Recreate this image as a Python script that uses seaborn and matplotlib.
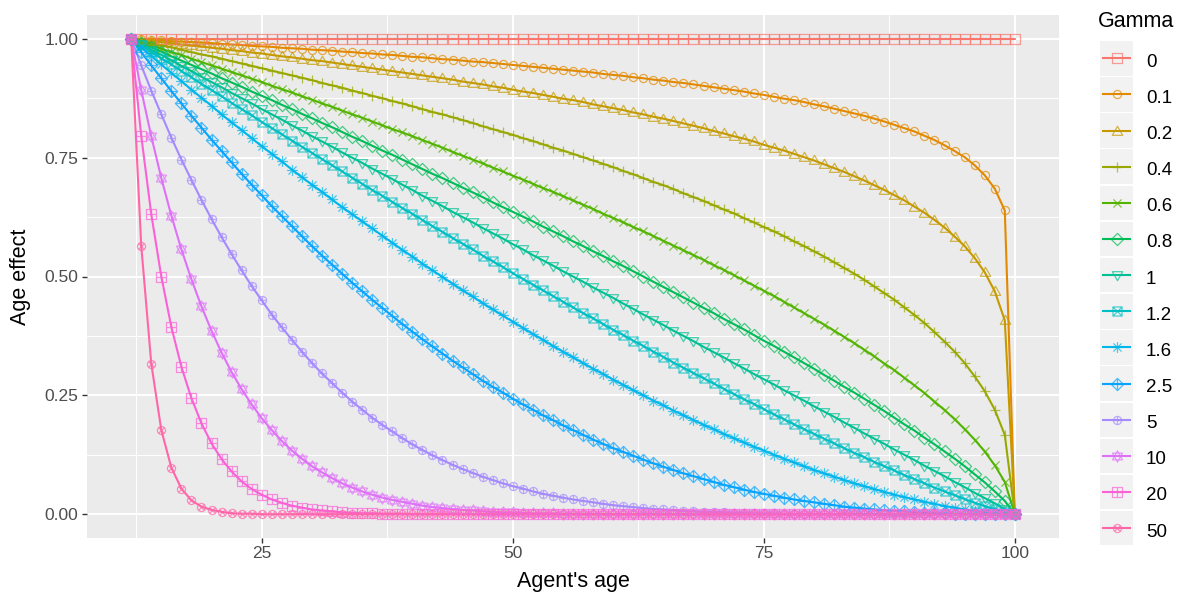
import numpy as np
import pandas as pd
import matplotlib
matplotlib.use("Agg")
import matplotlib.pyplot as plt
from matplotlib.path import Path
from matplotlib.patches import Rectangle
from matplotlib.colors import to_rgba, to_hex
import seaborn as sns

# ------------------------------------------------------------------
# Data: age effect per agent age for each value of gamma
# ------------------------------------------------------------------
gamma_levels = ["0", "0.1", "0.2", "0.4", "0.6", "0.8", "1", "1.2",
                "1.6", "2.5", "5", "10", "20", "50"]

ages = [12, 13, 14, 15, 16, 17, 18, 19, 20, 21,
        22, 23, 24, 25, 26, 27, 28, 29, 30, 31,
        32, 33, 34, 35, 36, 37, 38, 39, 40, 41,
        42, 43, 44, 45, 46, 47, 48, 49, 50, 51,
        52, 53, 54, 55, 56, 57, 58, 59, 60, 61,
        62, 63, 64, 65, 66, 67, 68, 69, 70, 71,
        72, 73, 74, 75, 76, 77, 78, 79, 80, 81,
        82, 83, 84, 85, 86, 87, 88, 89, 90, 91,
        92, 93, 94, 95, 96, 97, 98, 99, 100]

effect_g0 = [1, 1, 1, 1, 1, 1, 1, 1, 1, 1,
             1, 1, 1, 1, 1, 1, 1, 1, 1, 1,
             1, 1, 1, 1, 1, 1, 1, 1, 1, 1,
             1, 1, 1, 1, 1, 1, 1, 1, 1, 1,
             1, 1, 1, 1, 1, 1, 1, 1, 1, 1,
             1, 1, 1, 1, 1, 1, 1, 1, 1, 1,
             1, 1, 1, 1, 1, 1, 1, 1, 1, 1,
             1, 1, 1, 1, 1, 1, 1, 1, 1, 1,
             1, 1, 1, 1, 1, 1, 1, 1, 1]

effect_g01 = [1.000, 0.999, 0.998, 0.997, 0.995, 0.994, 0.993, 0.992, 0.991, 0.989,
              0.988, 0.987, 0.985, 0.984, 0.983, 0.981, 0.980, 0.979, 0.977, 0.976,
              0.975, 0.973, 0.972, 0.970, 0.969, 0.967, 0.966, 0.964, 0.962, 0.961,
              0.959, 0.957, 0.956, 0.954, 0.952, 0.951, 0.949, 0.947, 0.945, 0.943,
              0.941, 0.939, 0.937, 0.935, 0.933, 0.931, 0.929, 0.926, 0.924, 0.922,
              0.919, 0.917, 0.914, 0.912, 0.909, 0.907, 0.904, 0.901, 0.898, 0.895,
              0.892, 0.889, 0.885, 0.882, 0.878, 0.874, 0.871, 0.867, 0.862, 0.858,
              0.853, 0.848, 0.843, 0.838, 0.832, 0.826, 0.819, 0.812, 0.805, 0.796,
              0.787, 0.776, 0.764, 0.751, 0.734, 0.713, 0.685, 0.639, 0.000]

effect_g02 = [1.000, 0.998, 0.995, 0.993, 0.991, 0.988, 0.986, 0.984, 0.981, 0.979,
              0.976, 0.974, 0.971, 0.969, 0.966, 0.963, 0.961, 0.958, 0.955, 0.953,
              0.950, 0.947, 0.944, 0.941, 0.938, 0.935, 0.932, 0.929, 0.926, 0.923,
              0.920, 0.917, 0.914, 0.910, 0.907, 0.904, 0.900, 0.897, 0.893, 0.889,
              0.886, 0.882, 0.878, 0.874, 0.871, 0.867, 0.862, 0.858, 0.854, 0.850,
              0.845, 0.841, 0.836, 0.832, 0.827, 0.822, 0.817, 0.812, 0.806, 0.801,
              0.795, 0.790, 0.784, 0.777, 0.771, 0.765, 0.758, 0.751, 0.744, 0.736,
              0.728, 0.720, 0.711, 0.702, 0.692, 0.682, 0.671, 0.660, 0.647, 0.634,
              0.619, 0.603, 0.584, 0.564, 0.539, 0.509, 0.469, 0.408, 0.000]

effect_g04 = [1.000, 0.995, 0.991, 0.986, 0.982, 0.977, 0.972, 0.967, 0.963, 0.958,
              0.953, 0.948, 0.943, 0.938, 0.933, 0.928, 0.923, 0.918, 0.913, 0.907,
              0.902, 0.897, 0.891, 0.886, 0.880, 0.875, 0.869, 0.864, 0.858, 0.852,
              0.846, 0.841, 0.835, 0.829, 0.823, 0.816, 0.810, 0.804, 0.798, 0.791,
              0.785, 0.778, 0.771, 0.765, 0.758, 0.751, 0.744, 0.737, 0.730, 0.722,
              0.715, 0.707, 0.699, 0.692, 0.684, 0.675, 0.667, 0.659, 0.650, 0.641,
              0.633, 0.623, 0.614, 0.604, 0.595, 0.585, 0.574, 0.564, 0.553, 0.542,
              0.530, 0.518, 0.506, 0.493, 0.479, 0.465, 0.451, 0.435, 0.419, 0.402,
              0.383, 0.363, 0.342, 0.318, 0.290, 0.259, 0.220, 0.167, 0.000]

effect_g06 = [1.000, 0.993, 0.986, 0.979, 0.972, 0.966, 0.958, 0.951, 0.944, 0.937,
              0.930, 0.923, 0.916, 0.909, 0.901, 0.894, 0.887, 0.879, 0.872, 0.864,
              0.857, 0.849, 0.841, 0.834, 0.826, 0.818, 0.810, 0.803, 0.795, 0.787,
              0.779, 0.771, 0.762, 0.754, 0.746, 0.738, 0.729, 0.721, 0.712, 0.704,
              0.695, 0.686, 0.678, 0.669, 0.660, 0.651, 0.642, 0.632, 0.623, 0.614,
              0.604, 0.595, 0.585, 0.575, 0.565, 0.555, 0.545, 0.535, 0.524, 0.514,
              0.503, 0.492, 0.481, 0.470, 0.459, 0.447, 0.435, 0.423, 0.411, 0.399,
              0.386, 0.373, 0.360, 0.346, 0.332, 0.317, 0.303, 0.287, 0.271, 0.255,
              0.237, 0.219, 0.200, 0.179, 0.157, 0.132, 0.103, 0.068, 0.000]

effect_g08 = [1.000, 0.991, 0.982, 0.973, 0.963, 0.954, 0.945, 0.936, 0.927, 0.917,
              0.908, 0.899, 0.889, 0.880, 0.871, 0.861, 0.852, 0.842, 0.833, 0.823,
              0.814, 0.804, 0.794, 0.785, 0.775, 0.765, 0.756, 0.746, 0.736, 0.726,
              0.716, 0.707, 0.697, 0.687, 0.677, 0.667, 0.656, 0.646, 0.636, 0.626,
              0.616, 0.605, 0.595, 0.585, 0.574, 0.564, 0.553, 0.543, 0.532, 0.522,
              0.511, 0.500, 0.489, 0.478, 0.467, 0.456, 0.445, 0.434, 0.423, 0.411,
              0.400, 0.389, 0.377, 0.365, 0.354, 0.342, 0.330, 0.318, 0.306, 0.293,
              0.281, 0.268, 0.256, 0.243, 0.230, 0.217, 0.203, 0.189, 0.176, 0.161,
              0.147, 0.132, 0.117, 0.101, 0.084, 0.067, 0.048, 0.028, 0.000]

effect_g1 = [1.000, 0.989, 0.977, 0.966, 0.955, 0.943, 0.932, 0.920, 0.909, 0.898,
             0.886, 0.875, 0.864, 0.852, 0.841, 0.830, 0.818, 0.807, 0.795, 0.784,
             0.773, 0.761, 0.750, 0.739, 0.727, 0.716, 0.705, 0.693, 0.682, 0.670,
             0.659, 0.648, 0.636, 0.625, 0.614, 0.602, 0.591, 0.580, 0.568, 0.557,
             0.545, 0.534, 0.523, 0.511, 0.500, 0.489, 0.477, 0.466, 0.455, 0.443,
             0.432, 0.420, 0.409, 0.398, 0.386, 0.375, 0.364, 0.352, 0.341, 0.330,
             0.318, 0.307, 0.295, 0.284, 0.273, 0.261, 0.250, 0.239, 0.227, 0.216,
             0.205, 0.193, 0.182, 0.170, 0.159, 0.148, 0.136, 0.125, 0.114, 0.102,
             0.091, 0.080, 0.068, 0.057, 0.045, 0.034, 0.023, 0.011, 0.000]

effect_g12 = [1.000, 0.986, 0.973, 0.959, 0.946, 0.932, 0.919, 0.905, 0.892, 0.879,
              0.865, 0.852, 0.839, 0.825, 0.812, 0.799, 0.786, 0.773, 0.760, 0.747,
              0.734, 0.721, 0.708, 0.695, 0.682, 0.670, 0.657, 0.644, 0.632, 0.619,
              0.606, 0.594, 0.581, 0.569, 0.557, 0.544, 0.532, 0.520, 0.507, 0.495,
              0.483, 0.471, 0.459, 0.447, 0.435, 0.423, 0.412, 0.400, 0.388, 0.377,
              0.365, 0.354, 0.342, 0.331, 0.319, 0.308, 0.297, 0.286, 0.275, 0.264,
              0.253, 0.242, 0.232, 0.221, 0.210, 0.200, 0.189, 0.179, 0.169, 0.159,
              0.149, 0.139, 0.129, 0.120, 0.110, 0.101, 0.092, 0.082, 0.074, 0.065,
              0.056, 0.048, 0.040, 0.032, 0.024, 0.017, 0.011, 0.005, 0.000]

effect_g16 = [1.000, 0.982, 0.964, 0.946, 0.928, 0.911, 0.893, 0.876, 0.859, 0.841,
              0.824, 0.808, 0.791, 0.774, 0.758, 0.742, 0.725, 0.709, 0.693, 0.678,
              0.662, 0.646, 0.631, 0.616, 0.601, 0.586, 0.571, 0.556, 0.542, 0.527,
              0.513, 0.499, 0.485, 0.471, 0.458, 0.444, 0.431, 0.418, 0.405, 0.392,
              0.379, 0.367, 0.354, 0.342, 0.330, 0.318, 0.306, 0.295, 0.283, 0.272,
              0.261, 0.250, 0.239, 0.229, 0.218, 0.208, 0.198, 0.188, 0.179, 0.169,
              0.160, 0.151, 0.142, 0.134, 0.125, 0.117, 0.109, 0.101, 0.093, 0.086,
              0.079, 0.072, 0.065, 0.059, 0.053, 0.047, 0.041, 0.036, 0.031, 0.026,
              0.022, 0.017, 0.014, 0.010, 0.007, 0.004, 0.002, 0.001, 0.000]

effect_g25 = [1.000, 0.972, 0.944, 0.917, 0.890, 0.864, 0.838, 0.813, 0.788, 0.764,
              0.740, 0.716, 0.693, 0.671, 0.648, 0.627, 0.606, 0.585, 0.564, 0.544,
              0.525, 0.506, 0.487, 0.469, 0.451, 0.434, 0.417, 0.400, 0.384, 0.368,
              0.353, 0.338, 0.323, 0.309, 0.295, 0.281, 0.268, 0.256, 0.243, 0.231,
              0.220, 0.208, 0.198, 0.187, 0.177, 0.167, 0.157, 0.148, 0.139, 0.131,
              0.123, 0.115, 0.107, 0.100, 0.093, 0.086, 0.080, 0.074, 0.068, 0.062,
              0.057, 0.052, 0.047, 0.043, 0.039, 0.035, 0.031, 0.028, 0.025, 0.022,
              0.019, 0.016, 0.014, 0.012, 0.010, 0.008, 0.007, 0.006, 0.004, 0.003,
              0.002, 0.002, 0.001, 0.001, 0.000, 0.000, 0.000, 0.000, 0.000]

effect_g5 = [1.000, 0.944, 0.891, 0.841, 0.792, 0.746, 0.703, 0.661, 0.621, 0.583,
             0.547, 0.513, 0.480, 0.450, 0.420, 0.393, 0.367, 0.342, 0.318, 0.296,
             0.276, 0.256, 0.237, 0.220, 0.203, 0.188, 0.174, 0.160, 0.147, 0.135,
             0.124, 0.114, 0.104, 0.095, 0.087, 0.079, 0.072, 0.065, 0.059, 0.054,
             0.048, 0.043, 0.039, 0.035, 0.031, 0.028, 0.025, 0.022, 0.019, 0.017,
             0.015, 0.013, 0.011, 0.010, 0.009, 0.007, 0.006, 0.005, 0.005, 0.004,
             0.003, 0.003, 0.002, 0.002, 0.002, 0.001, 0.001, 0.001, 0.001, 0.000,
             0.000, 0.000, 0.000, 0.000, 0.000, 0.000, 0.000, 0.000, 0.000, 0.000,
             0.000, 0.000, 0.000, 0.000, 0.000, 0.000, 0.000, 0.000, 0.000]

effect_g10 = [1.000, 0.892, 0.795, 0.707, 0.628, 0.557, 0.494, 0.437, 0.386, 0.340,
              0.299, 0.263, 0.231, 0.202, 0.177, 0.154, 0.134, 0.117, 0.101, 0.088,
              0.076, 0.065, 0.056, 0.048, 0.041, 0.035, 0.030, 0.026, 0.022, 0.018,
              0.015, 0.013, 0.011, 0.009, 0.008, 0.006, 0.005, 0.004, 0.004, 0.003,
              0.002, 0.002, 0.002, 0.001, 0.001, 0.001, 0.001, 0.000, 0.000, 0.000,
              0.000, 0.000, 0.000, 0.000, 0.000, 0.000, 0.000, 0.000, 0.000, 0.000,
              0.000, 0.000, 0.000, 0.000, 0.000, 0.000, 0.000, 0.000, 0.000, 0.000,
              0.000, 0.000, 0.000, 0.000, 0.000, 0.000, 0.000, 0.000, 0.000, 0.000,
              0.000, 0.000, 0.000, 0.000, 0.000, 0.000, 0.000, 0.000, 0.000]

effect_g20 = [1.000, 0.796, 0.631, 0.500, 0.394, 0.310, 0.244, 0.191, 0.149, 0.116,
              0.090, 0.069, 0.053, 0.041, 0.031, 0.024, 0.018, 0.014, 0.010, 0.008,
              0.006, 0.004, 0.003, 0.002, 0.002, 0.001, 0.001, 0.001, 0.000, 0.000,
              0.000, 0.000, 0.000, 0.000, 0.000, 0.000, 0.000, 0.000, 0.000, 0.000,
              0.000, 0.000, 0.000, 0.000, 0.000, 0.000, 0.000, 0.000, 0.000, 0.000,
              0.000, 0.000, 0.000, 0.000, 0.000, 0.000, 0.000, 0.000, 0.000, 0.000,
              0.000, 0.000, 0.000, 0.000, 0.000, 0.000, 0.000, 0.000, 0.000, 0.000,
              0.000, 0.000, 0.000, 0.000, 0.000, 0.000, 0.000, 0.000, 0.000, 0.000,
              0.000, 0.000, 0.000, 0.000, 0.000, 0.000, 0.000, 0.000, 0.000]

effect_g50 = [1.000, 0.565, 0.317, 0.177, 0.098, 0.054, 0.029, 0.016, 0.009, 0.005,
              0.002, 0.001, 0.001, 0.000, 0.000, 0.000, 0.000, 0.000, 0.000, 0.000,
              0.000, 0.000, 0.000, 0.000, 0.000, 0.000, 0.000, 0.000, 0.000, 0.000,
              0.000, 0.000, 0.000, 0.000, 0.000, 0.000, 0.000, 0.000, 0.000, 0.000,
              0.000, 0.000, 0.000, 0.000, 0.000, 0.000, 0.000, 0.000, 0.000, 0.000,
              0.000, 0.000, 0.000, 0.000, 0.000, 0.000, 0.000, 0.000, 0.000, 0.000,
              0.000, 0.000, 0.000, 0.000, 0.000, 0.000, 0.000, 0.000, 0.000, 0.000,
              0.000, 0.000, 0.000, 0.000, 0.000, 0.000, 0.000, 0.000, 0.000, 0.000,
              0.000, 0.000, 0.000, 0.000, 0.000, 0.000, 0.000, 0.000, 0.000]

palette = ["#F8766D", "#E38900", "#C49A00", "#99A800", "#53B400", "#00BC56",
           "#00C094", "#00BFC4", "#00B6EB", "#06A4FF", "#A58AFF", "#DF70F8",
           "#FB61D7", "#FF66A8"]

series = dict(zip(gamma_levels, [effect_g0, effect_g01, effect_g02, effect_g04,
                                 effect_g06, effect_g08, effect_g1, effect_g12,
                                 effect_g16, effect_g25, effect_g5, effect_g10,
                                 effect_g20, effect_g50]))

df = pd.concat(
    [pd.DataFrame({"age": ages, "effect": series[lev], "gamma": lev}) for lev in gamma_levels],
    ignore_index=True,
)

# ------------------------------------------------------------------
# Point shapes (open square, circle, triangle, plus, cross, ...)
# ------------------------------------------------------------------
def _seg(a, b):
    return Path([a, b], [Path.MOVETO, Path.LINETO])


def _poly(pts):
    pts = list(pts)
    return Path(pts + [pts[0]],
                [Path.MOVETO] + [Path.LINETO] * (len(pts) - 1) + [Path.CLOSEPOLY])


def _circ(r):
    c = Path.circle((0.0, 0.0), r)
    return Path(np.array(c.vertices), np.array(c.codes))


def _plus(a):
    return [_seg((-a, 0), (a, 0)), _seg((0, -a), (0, a))]


def _cross(a):
    return [_seg((-a, -a), (a, a)), _seg((-a, a), (a, -a))]


def _shape(*parts):
    flat = []
    for p in parts:
        if isinstance(p, list):
            flat.extend(p)
        else:
            flat.append(p)
    return Path.make_compound_path(*flat)


square = _poly([(-1, -1), (1, -1), (1, 1), (-1, 1)])
tri_up = _poly([(0, 1.15), (-1.15, -0.85), (1.15, -0.85)])
tri_dn = _poly([(0, -1.15), (-1.15, 0.85), (1.15, 0.85)])
diamond = _poly([(0, 1.35), (1.35, 0), (0, -1.35), (-1.35, 0)])

shape_paths = [
    _shape(square),
    _shape(_circ(0.9)),
    _shape(tri_up),
    _shape(_plus(1.2)),
    _shape(_cross(0.9)),
    _shape(diamond),
    _shape(tri_dn),
    _shape(square, _cross(1.0)),
    _shape(_plus(1.2), _cross(0.9)),
    _shape(diamond, _plus(1.35)),
    _shape(_circ(0.9), _plus(0.9)),
    _shape(_poly([(0, 1.25), (-1.1, -0.75), (1.1, -0.75)]),
           _poly([(0, -1.25), (-1.1, 0.75), (1.1, 0.75)])),
    _shape(square, _plus(1.0)),
    _shape(_circ(0.9), _cross(0.64)),
]

marker_map = dict(zip(gamma_levels, shape_paths))
color_map = dict(zip(gamma_levels, palette))
marker_base = 6.5          # points per two shape units
marker_alpha = 0.7
marker_edge = 0.9
line_width = 1.5

# ------------------------------------------------------------------
# Style
# ------------------------------------------------------------------
sns.set_theme(style="darkgrid", rc={
    "axes.facecolor": "#EBEBEB",
    "figure.facecolor": "white",
    "grid.color": "white",
})
plt.rcParams["font.family"] = ["Liberation Sans", "DejaVu Sans"]

W, H = 1195, 603
fig = plt.figure(figsize=(W / 100, H / 100), dpi=100)
ax = fig.add_axes([87 / W, 65 / H, 972 / W, 523 / H])

# lines first, points on top
sns.lineplot(data=df, x="age", y="effect", hue="gamma", hue_order=gamma_levels,
             palette=color_map, estimator=None, errorbar=None, sort=False,
             legend=False, linewidth=line_width, ax=ax)
n_first = len(ax.lines)
sns.lineplot(data=df, x="age", y="effect", hue="gamma", style="gamma",
             hue_order=gamma_levels, style_order=gamma_levels,
             palette=color_map, markers=marker_map, dashes=False,
             estimator=None, errorbar=None, sort=False, legend=False,
             linestyle="", ax=ax)

scale_of = {lev: float(np.abs(p.vertices).max()) for lev, p in marker_map.items()}
level_of_color = {to_hex(c): lev for lev, c in color_map.items()}
for line in ax.lines[n_first:]:
    lev = level_of_color.get(to_hex(line.get_color()))
    if lev is None:
        continue
    line.set_markersize(marker_base * scale_of[lev])
    line.set_markerfacecolor("none")
    line.set_markeredgecolor(to_rgba(color_map[lev], marker_alpha))
    line.set_markeredgewidth(marker_edge)

# axes, grid and ticks
ax.set_xlim(7.6, 104.4)
ax.set_ylim(-0.05, 1.05)
ax.set_xticks([25, 50, 75, 100])
ax.set_xticklabels(["25", "50", "75", "100"])
ax.set_yticks([0, 0.25, 0.5, 0.75, 1.0])
ax.set_yticklabels(["0.00", "0.25", "0.50", "0.75", "1.00"])
ax.set_xticks([12.5, 37.5, 62.5, 87.5], minor=True)
ax.set_yticks([0.125, 0.375, 0.625, 0.875], minor=True)
ax.grid(which="major", color="white", linewidth=1.4)
ax.grid(which="minor", color="white", linewidth=0.7)
ax.set_axisbelow(True)
ax.tick_params(which="major", length=3.6, width=1.0, color="#333333",
               labelcolor="#4D4D4D", labelsize=12.5, pad=2.5,
               bottom=True, left=True)
ax.tick_params(which="minor", length=0)
for s in ax.spines.values():
    s.set_visible(False)

ax.set_xlabel("Agent's age", fontsize=15.5, color="black")
ax.set_ylabel("Age effect", fontsize=15.5, color="black")
ax.xaxis.set_label_coords(0.5, -0.063)
ax.yaxis.set_label_coords(-0.058, 0.5)

# legend drawn in figure pixel space
lax = fig.add_axes([0, 0, 1, 1], facecolor="none")
lax.set_xlim(0, W)
lax.set_ylim(H, 0)
lax.axis("off")
lax.text(1098, 26.7, "Gamma", fontsize=15.5, va="baseline", ha="left", color="black")
key_left, key_w, key_h, key_top, key_step = 1100, 33.5, 34.5, 41, 36.15
for i, lev in enumerate(gamma_levels):
    top = key_top + i * key_step
    cy = top + key_h / 2
    cx = key_left + key_w / 2
    lax.add_patch(Rectangle((key_left, top), key_w, key_h,
                            facecolor="#F2F2F2", edgecolor="none"))
    lax.plot([key_left + 2, key_left + key_w - 2], [cy, cy],
             color=color_map[lev], lw=line_width, solid_capstyle="butt")
    lax.plot([cx], [cy], linestyle="", marker=marker_map[lev],
             ms=marker_base * scale_of[lev], mfc="none",
             mec=to_rgba(color_map[lev], marker_alpha), mew=marker_edge)
    lax.text(1146, cy + 8.4, lev, fontsize=13.5, va="baseline", ha="left",
             color="black")

fig.savefig("out.png", dpi=100)
